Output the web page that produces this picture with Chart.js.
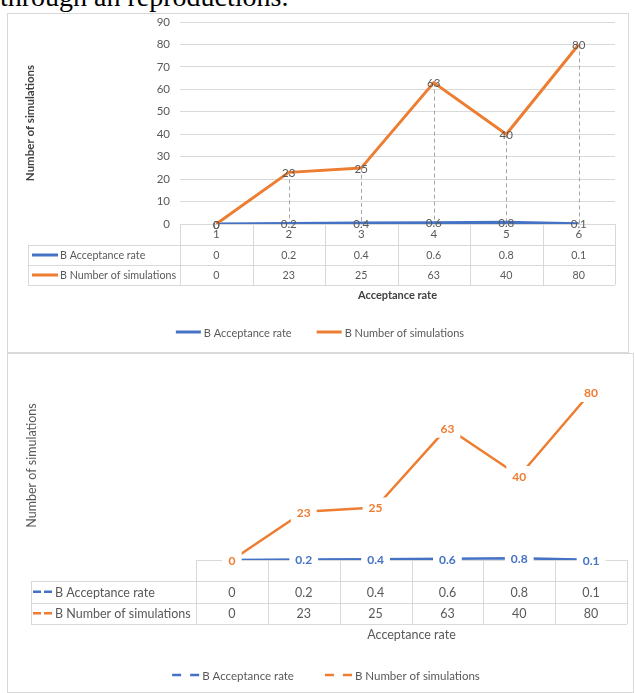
<!DOCTYPE html>
<html lang="en">
<head>
<meta charset="utf-8">
<title>Acceptance rate vs number of simulations</title>
<style>
  body { margin: 0; width: 635px; height: 693px; position: relative; overflow: hidden; background: #fff; }
  .cap { position: absolute; left: 0; top: -17px; font: 28px "Liberation Serif", serif; line-height: 28px; color: #000; white-space: nowrap; }
  .panel { position: absolute; box-sizing: border-box; border: 1px solid #d9d9d9; background: #fff; }
  .panel canvas { position: absolute; left: 0; top: 0; }
  #p1 { left: 7px; top: 13px; width: 622px; height: 340px; }
  #p2 { left: 7px; top: 353px; width: 627px; height: 340px; }
</style>
</head>
<body>
<div class="cap">through an reproductions.</div>
<div class="panel" id="p1"><canvas id="chart1" width="620" height="338"></canvas></div>
<div class="panel" id="p2"><canvas id="chart2" width="625" height="338"></canvas></div>

<script src="https://cdn.jsdelivr.net/npm/chart.js"></script>
<script>
// data (same numbers in both)
const categories = ['1', '2', '3', '4', '5', '6'];
const acceptanceRate = [0, 0.2, 0.4, 0.6, 0.8, 0.1];
const numberOfSimulations = [0, 23, 25, 63, 40, 80];
const seriesNames = ['B Acceptance rate', 'B Number of simulations'];
const yMax = 90;
const yStep = 10;

const BLUE = '#4472C4';
const ORANGE = '#ED7D31';
const GREY = '#595959';
const LINE = '#d9d9d9';
const FAMILY = 'Lato, "Liberation Sans", sans-serif';

function cssFont(size, weight) {
  return (weight || 'normal') + ' ' + size + 'px ' + FAMILY;
}

// drop lines + value labels on the points
const valueLabels = {
  id: 'valueLabels',
  beforeDatasetsDraw(chart, args, o) {
    if (!o.dropLines) return;
    const ctx = chart.ctx, area = chart.chartArea;
    ctx.save();
    ctx.strokeStyle = '#a6a6a6';
    ctx.lineWidth = 1;
    ctx.setLineDash([4, 3]);
    chart.data.labels.forEach((l, i) => {
      let top = area.bottom, x = 0;
      chart.data.datasets.forEach((ds, di) => {
        const pt = chart.getDatasetMeta(di).data[i];
        x = pt.x;
        if (pt.y < top) top = pt.y;
      });
      ctx.beginPath();
      ctx.moveTo(Math.round(x) + 0.5, top);
      ctx.lineTo(Math.round(x) + 0.5, area.bottom);
      ctx.stroke();
    });
    ctx.restore();
  },
  afterDatasetsDraw(chart, args, o) {
    const ctx = chart.ctx;
    ctx.save();
    ctx.font = o.font;
    ctx.textAlign = 'center';
    ctx.textBaseline = 'middle';
    chart.data.datasets.forEach((ds, di) => {
      chart.getDatasetMeta(di).data.forEach((pt, i) => {
        const txt = String(ds.data[i]);
        if (o.boxed) {
          const w = ctx.measureText(txt).width + o.padX * 2;
          ctx.fillStyle = '#fff';
          ctx.fillRect(pt.x - w / 2, pt.y - o.boxH / 2, w, o.boxH);
        }
        ctx.fillStyle = o.color || ds.borderColor;
        ctx.fillText(txt, pt.x, pt.y + 1);
      });
    });
    ctx.restore();
  }
};

function drawKey(ctx, x1, x2, y, color, width, dash) {
  ctx.save();
  ctx.strokeStyle = color;
  ctx.lineWidth = width;
  ctx.setLineDash(dash || []);
  ctx.beginPath();
  ctx.moveTo(x1, y);
  ctx.lineTo(x2, y);
  ctx.stroke();
  ctx.restore();
}

// excel style data table under the plot + legend at the bottom
const sheetTable = {
  id: 'sheetTable',
  afterDraw(chart, args, o) {
    const ctx = chart.ctx, xs = chart.scales.x, area = chart.chartArea;
    const n = chart.data.labels.length;
    const step = xs.getPixelForValue(1) - xs.getPixelForValue(0);
    const left = xs.getPixelForValue(0) - step / 2;
    const right = xs.getPixelForValue(n - 1) + step / 2;
    const top = area.bottom;
    const rowsTop = top + o.headH;
    const bottom = rowsTop + o.rowH * chart.data.datasets.length;

    ctx.save();
    ctx.strokeStyle = LINE;
    ctx.lineWidth = 1;
    ctx.beginPath();
    for (let k = 0; k <= n; k++) {
      const x = Math.round(left + k * step) + 0.5;
      ctx.moveTo(x, top);
      ctx.lineTo(x, bottom);
    }
    ctx.moveTo(o.labelLeft + 0.5, rowsTop);
    ctx.lineTo(o.labelLeft + 0.5, bottom);
    for (let r = 0; r <= chart.data.datasets.length; r++) {
      const y = Math.round(rowsTop + r * o.rowH) + 0.5;
      ctx.moveTo(o.labelLeft, y);
      ctx.lineTo(right, y);
    }
    ctx.stroke();

    ctx.font = o.font;
    ctx.fillStyle = GREY;
    ctx.textBaseline = 'middle';
    chart.data.datasets.forEach((ds, di) => {
      const cy = rowsTop + o.rowH * (di + 0.5);
      drawKey(ctx, o.keyX[0], o.keyX[1], cy, ds.borderColor, o.keyW, o.keyDash);
      ctx.fillStyle = GREY;
      ctx.textAlign = 'left';
      ctx.fillText(ds.label, o.textX, cy + 1);
      ctx.textAlign = 'center';
      ds.data.forEach((v, i) => ctx.fillText(String(v), xs.getPixelForValue(i), cy + 1));
    });

    // legend
    ctx.font = o.legendFont;
    const items = chart.data.datasets.map(ds => ({ ds, w: ctx.measureText(ds.label).width }));
    let total = 0;
    items.forEach((it, i) => { total += o.legKey + o.legGap + it.w + (i ? o.legItemGap : 0); });
    let x = o.legendCenter - total / 2;
    items.forEach(it => {
      drawKey(ctx, x, x + o.legKey, o.legendY, it.ds.borderColor, o.keyW, o.legDash);
      ctx.fillStyle = GREY;
      ctx.textAlign = 'left';
      ctx.fillText(it.ds.label, x + o.legKey + o.legGap, o.legendY + 1);
      x += o.legKey + o.legGap + it.w + o.legItemGap;
    });
    ctx.restore();
  }
};

function datasets(width) {
  return [
    { label: seriesNames[0], data: acceptanceRate, borderColor: BLUE, backgroundColor: BLUE,
      borderWidth: width, pointRadius: 0, tension: 0, borderJoinStyle: 'round', order: 2 },
    { label: seriesNames[1], data: numberOfSimulations, borderColor: ORANGE, backgroundColor: ORANGE,
      borderWidth: width, pointRadius: 0, tension: 0, borderJoinStyle: 'round', order: 1 }
  ];
}

// top chart: with axis, gridlines and drop lines
new Chart(document.getElementById('chart1'), {
  type: 'line',
  data: { labels: categories, datasets: datasets(3) },
  options: {
    responsive: false,
    animation: false,
    devicePixelRatio: 1,
    layout: { padding: { top: 0, right: 13, bottom: 0, left: 0 } },
    plugins: {
      legend: { display: false },
      tooltip: { enabled: false },
      valueLabels: { font: cssFont(11.5), color: GREY, dropLines: true },
      sheetTable: {
        headH: 21, rowH: 20, labelLeft: 20, font: cssFont(10.7), keyX: [24, 50], keyW: 3, keyDash: null,
        textX: 52, legendFont: cssFont(11), legendY: 318, legendCenter: 312,
        legKey: 25, legGap: 3, legItemGap: 25, legDash: null
      }
    },
    scales: {
      x: {
        offset: true,
        grid: { display: false, drawTicks: false },
        border: { display: false },
        ticks: { color: GREY, font: { family: FAMILY, size: 11.5 }, padding: 3 },
        title: { display: true, text: 'Acceptance rate', color: '#404040',
                 font: { family: FAMILY, size: 11, weight: 'bold' }, padding: { top: 0, bottom: 50 } },
        afterFit(s) { s.height = 128; }
      },
      y: {
        min: 0, max: yMax,
        grid: { color: LINE, drawTicks: false },
        border: { display: false },
        ticks: { stepSize: yStep, color: GREY, font: { family: FAMILY, size: 11.5 }, padding: 10 },
        title: { display: true, text: 'Number of simulations', color: '#404040',
                 font: { family: FAMILY, size: 11.5, weight: 'bold' }, padding: { top: 15, bottom: 0 } },
        afterFit(s) { s.width = 172; s.paddingTop = 8; s.paddingBottom = 7; }
      }
    }
  },
  plugins: [valueLabels, sheetTable]
});

// bottom chart: no value axis, coloured boxed labels, dashed keys
new Chart(document.getElementById('chart2'), {
  type: 'line',
  data: { labels: categories, datasets: datasets(2.5) },
  options: {
    responsive: false,
    animation: false,
    devicePixelRatio: 1,
    layout: { padding: { top: 17, right: 6, bottom: 0, left: 0 } },
    plugins: {
      legend: { display: false },
      tooltip: { enabled: false },
      valueLabels: { font: cssFont(12, 'bold'), boxed: true, padX: 6, boxH: 20 },
      sheetTable: {
        headH: 21, rowH: 21.5, labelLeft: 23, font: cssFont(12.5), keyX: [25, 44], keyW: 2.5, keyDash: [8, 3],
        textX: 47, legendFont: cssFont(11.5), legendY: 321, legendCenter: 318,
        legKey: 27, legGap: 3, legItemGap: 31, legDash: [9, 9]
      }
    },
    scales: {
      x: {
        offset: true,
        grid: { display: false, drawTicks: false },
        border: { display: true, color: LINE },
        ticks: { display: false },
        title: { display: true, text: 'Acceptance rate', color: GREY,
                 font: { family: FAMILY, size: 12.5 }, padding: { top: 0, bottom: 50 } },
        afterFit(s) { s.height = 132; }
      },
      y: {
        min: 0, max: yMax,
        grid: { display: false, drawTicks: false },
        border: { display: false },
        ticks: { display: false, stepSize: yStep },
        title: { display: true, text: 'Number of simulations', color: GREY,
                 font: { family: FAMILY, size: 12.5 }, padding: { top: 16, bottom: 0 } },
        afterFit(s) { s.width = 188; }
      }
    }
  },
  plugins: [valueLabels, sheetTable]
});
</script>
</body>
</html>
